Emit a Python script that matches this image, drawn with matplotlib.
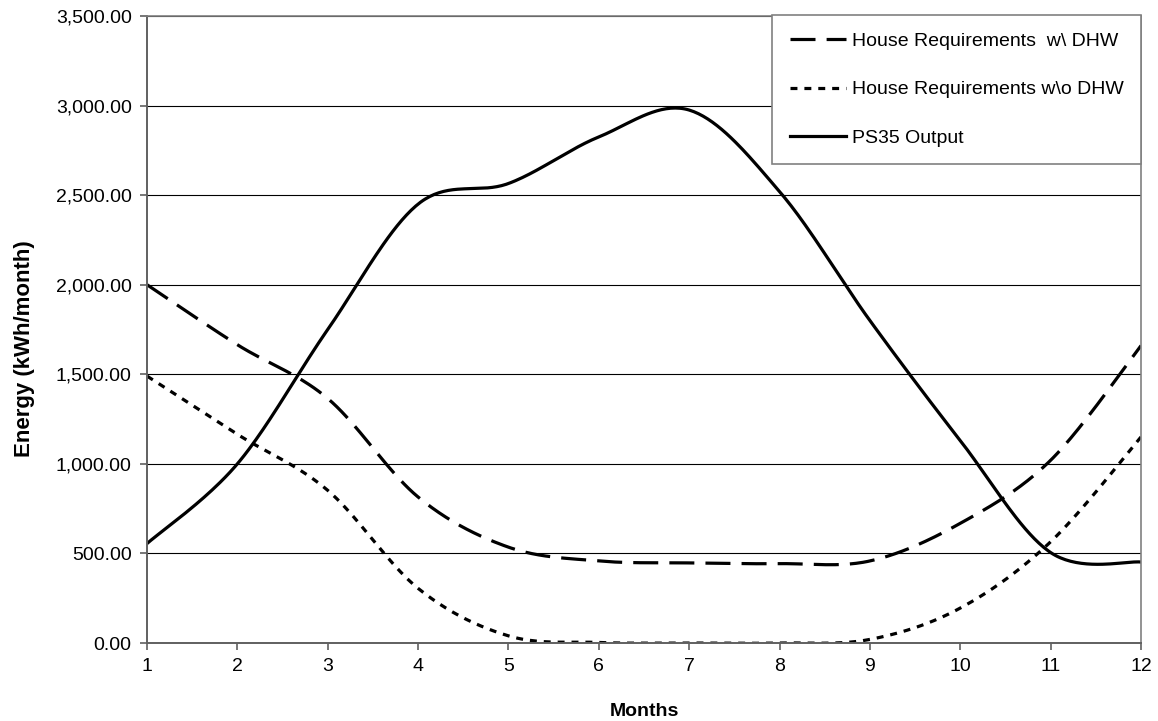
import numpy as np
import matplotlib
matplotlib.use("Agg")
import matplotlib.pyplot as plt
from matplotlib.ticker import FuncFormatter

months = [1, 2, 3, 4, 5, 6, 7, 8, 9, 10, 11, 12]
house_with_dhw = [2000, 1665, 1365, 815, 535, 458, 447, 443, 458, 668, 1020, 1660]
house_without_dhw = [1490, 1165, 852, 305, 40, 3, 0, 0, 20, 195, 565, 1150]
ps35_output = [555, 1000, 1750, 2450, 2565, 2825, 2975, 2520, 1800, 1130, 505, 452]

labels = ["House Requirements  w\\ DHW", "House Requirements w\\o DHW", "PS35 Output"]


def smooth(xs, ys, n=40):
    """Excel-like smoothed line: cubic Bezier segments with Catmull-Rom control points."""
    p = np.column_stack([np.asarray(xs, float), np.asarray(ys, float)])
    ext = np.vstack([p[0], p, p[-1]])
    out = []
    t = np.linspace(0, 1, n)[:, None]
    for i in range(len(p) - 1):
        p0, p1, p2, p3 = ext[i], ext[i + 1], ext[i + 2], ext[i + 3]
        c1 = p1 + (p2 - p0) / 6.0
        c2 = p2 - (p3 - p1) / 6.0
        seg = ((1 - t) ** 3) * p1 + 3 * ((1 - t) ** 2) * t * c1 + 3 * (1 - t) * t ** 2 * c2 + t ** 3 * p2
        out.append(seg if i == 0 else seg[1:])
    s = np.vstack(out)
    return s[:, 0], s[:, 1]


plt.rcParams['font.family'] = ['Liberation Sans', 'DejaVu Sans']
plt.rcParams['lines.scale_dashes'] = False

fig = plt.figure(figsize=(11.58, 7.21), dpi=100)
ax = fig.add_axes([147 / 1158, 78 / 721, (1141 - 147) / 1158, (643 - 16) / 721])

lw = 2.3
x1, y1 = smooth(months, house_with_dhw)
x2, y2 = smooth(months, house_without_dhw)
x3, y3 = smooth(months, ps35_output)
ax.plot(x1, y1, color='black', lw=lw, linestyle=(0, (18, 8)), label=labels[0],
        dash_capstyle='butt')
ax.plot(x2, y2, color='black', lw=lw, linestyle=(0, (5, 5)), label=labels[1],
        dash_capstyle='butt')
ax.plot(x3, y3, color='black', lw=lw, linestyle='-', label=labels[2])

ax.set_xlim(1, 12)
ax.set_ylim(0, 3500)
ax.set_xticks(months)
ax.set_yticks(np.arange(0, 3501, 500))
ax.yaxis.set_major_formatter(FuncFormatter(lambda v, p: f"{v:,.2f}"))
ax.grid(axis='y', color='black', lw=0.8)
ax.set_axisbelow(True)

for side in ['top', 'right']:
    ax.spines[side].set_color('#808080')
    ax.spines[side].set_linewidth(1.2)
for side in ['left', 'bottom']:
    ax.spines[side].set_color('#606060')
    ax.spines[side].set_linewidth(1.4)

ax.tick_params(axis='both', direction='out', length=5, width=1.2, color='#606060',
               labelsize=14, labelcolor='black', pad=6)

ax.set_xlabel("Months", fontsize=14, fontweight='bold', labelpad=20)
ax.set_ylabel("Energy (kWh/month)", fontsize=16, fontweight='bold')
ax.yaxis.set_label_coords(-0.113, 0.47)

leg = ax.legend(loc='upper right', bbox_to_anchor=(1141 / 1158, (721 - 15) / 721),
                bbox_transform=fig.transFigure, borderaxespad=0, fontsize=14,
                frameon=True, fancybox=False, shadow=False, handlelength=2.9,
                handletextpad=0.3, labelspacing=1.58, borderpad=0.9)
leg.get_frame().set_edgecolor('#808080')
leg.get_frame().set_linewidth(1.2)
leg.get_frame().set_facecolor('white')
leg.get_frame().set_alpha(1)

fig.savefig("out.png", dpi=100)
